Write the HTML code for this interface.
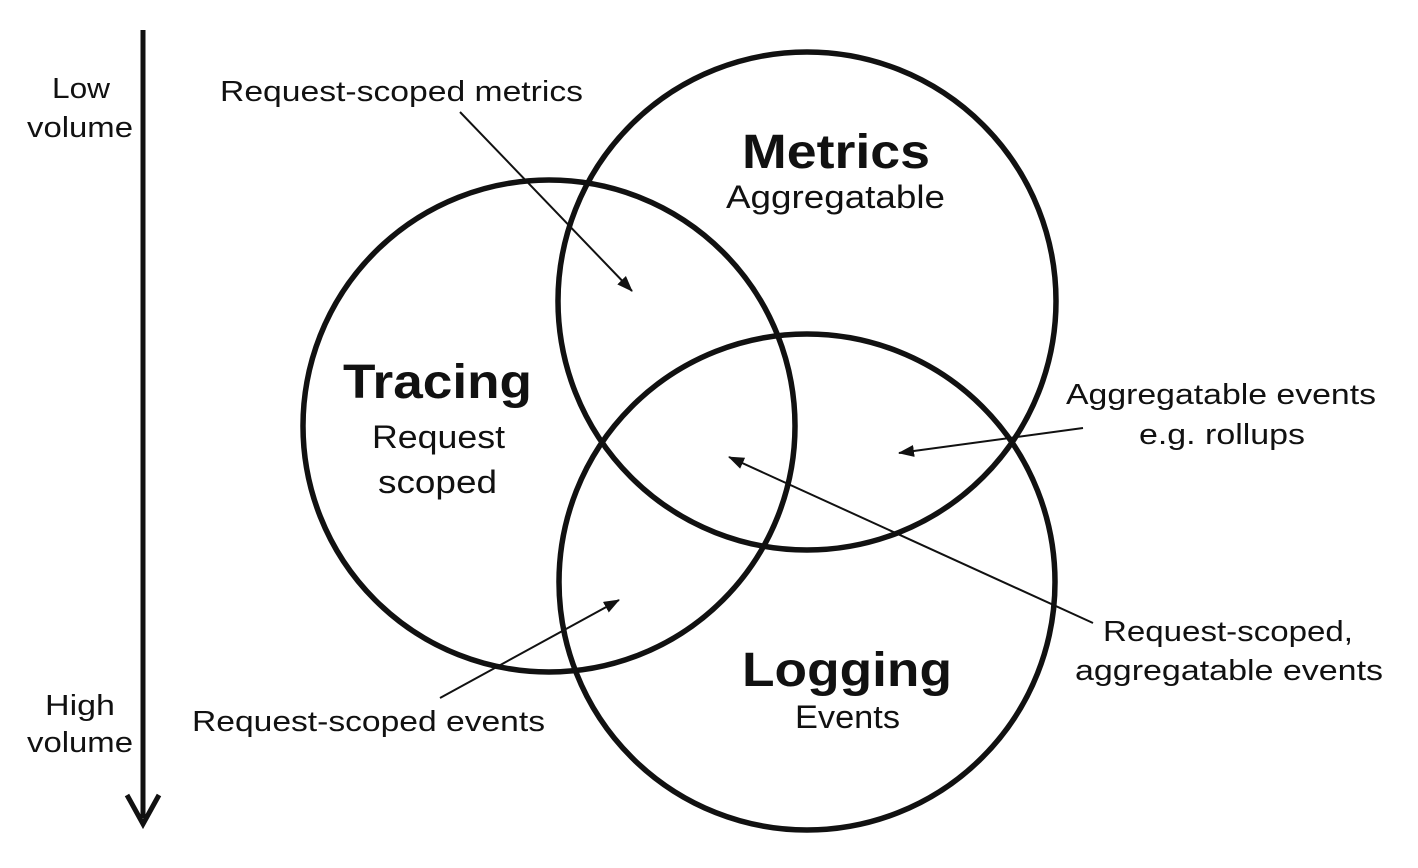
<!DOCTYPE html>
<html><head><style>html,body{margin:0;padding:0;background:#fff}svg{display:block}</style></head>
<body>
<svg width="1418" height="868" viewBox="0 0 1418 868" xmlns="http://www.w3.org/2000/svg" font-family="Liberation Sans, Arial, sans-serif">
<defs>
<marker id="a" markerWidth="16" markerHeight="12" refX="15" refY="6" orient="auto" markerUnits="userSpaceOnUse" viewBox="0 0 16 12"><path d="M0,0 L16,6 L0,12 z" fill="#111"/></marker>
</defs>
<rect width="1418" height="868" fill="#fff"/>
<g fill="none" stroke="#111" stroke-width="5.5">
<circle cx="549" cy="426" r="246"/>
<circle cx="807" cy="301" r="249"/>
<circle cx="807" cy="582" r="248"/>
</g>
<line x1="143" y1="30" x2="143" y2="818" stroke="#111" stroke-width="5"/>
<path d="M127,795 L143,824 L159,795" fill="none" stroke="#111" stroke-width="5"/>
<g stroke="#111" stroke-width="2" marker-end="url(#a)">
<line x1="460" y1="112" x2="632" y2="291"/>
<line x1="1083" y1="428" x2="899" y2="453"/>
<line x1="1093" y1="623" x2="729" y2="457"/>
<line x1="440" y1="698" x2="619" y2="600"/>
</g>
<g fill="#111" font-size="29" lengthAdjust="spacingAndGlyphs">
<text x="52" y="98" textLength="58" lengthAdjust="spacingAndGlyphs">Low</text>
<text x="27" y="137" textLength="106" lengthAdjust="spacingAndGlyphs">volume</text>
<text x="45" y="715" textLength="70" lengthAdjust="spacingAndGlyphs">High</text>
<text x="27" y="752" textLength="106" lengthAdjust="spacingAndGlyphs">volume</text>
<text x="220" y="101" textLength="363" lengthAdjust="spacingAndGlyphs">Request-scoped metrics</text>
<text x="192" y="731" textLength="353" lengthAdjust="spacingAndGlyphs">Request-scoped events</text>
<text x="1066" y="404" textLength="310" lengthAdjust="spacingAndGlyphs">Aggregatable events</text>
<text x="1139" y="444" textLength="166" lengthAdjust="spacingAndGlyphs">e.g. rollups</text>
<text x="1103" y="641" textLength="250" lengthAdjust="spacingAndGlyphs">Request-scoped,</text>
<text x="1075" y="680" textLength="308" lengthAdjust="spacingAndGlyphs">aggregatable events</text>
<text x="726" y="208" font-size="32" textLength="219" lengthAdjust="spacingAndGlyphs">Aggregatable</text>
<text x="372" y="448" font-size="32" textLength="133" lengthAdjust="spacingAndGlyphs">Request</text>
<text x="378" y="493" font-size="32" textLength="119" lengthAdjust="spacingAndGlyphs">scoped</text>
<text x="795" y="728" font-size="32" textLength="105" lengthAdjust="spacingAndGlyphs">Events</text>
<text x="742" y="168" font-size="48" font-weight="bold" textLength="188" lengthAdjust="spacingAndGlyphs">Metrics</text>
<text x="343" y="398" font-size="48" font-weight="bold" textLength="189" lengthAdjust="spacingAndGlyphs">Tracing</text>
<text x="742" y="686" font-size="48" font-weight="bold" textLength="210" lengthAdjust="spacingAndGlyphs">Logging</text>
</g>
</svg>
</body></html>
